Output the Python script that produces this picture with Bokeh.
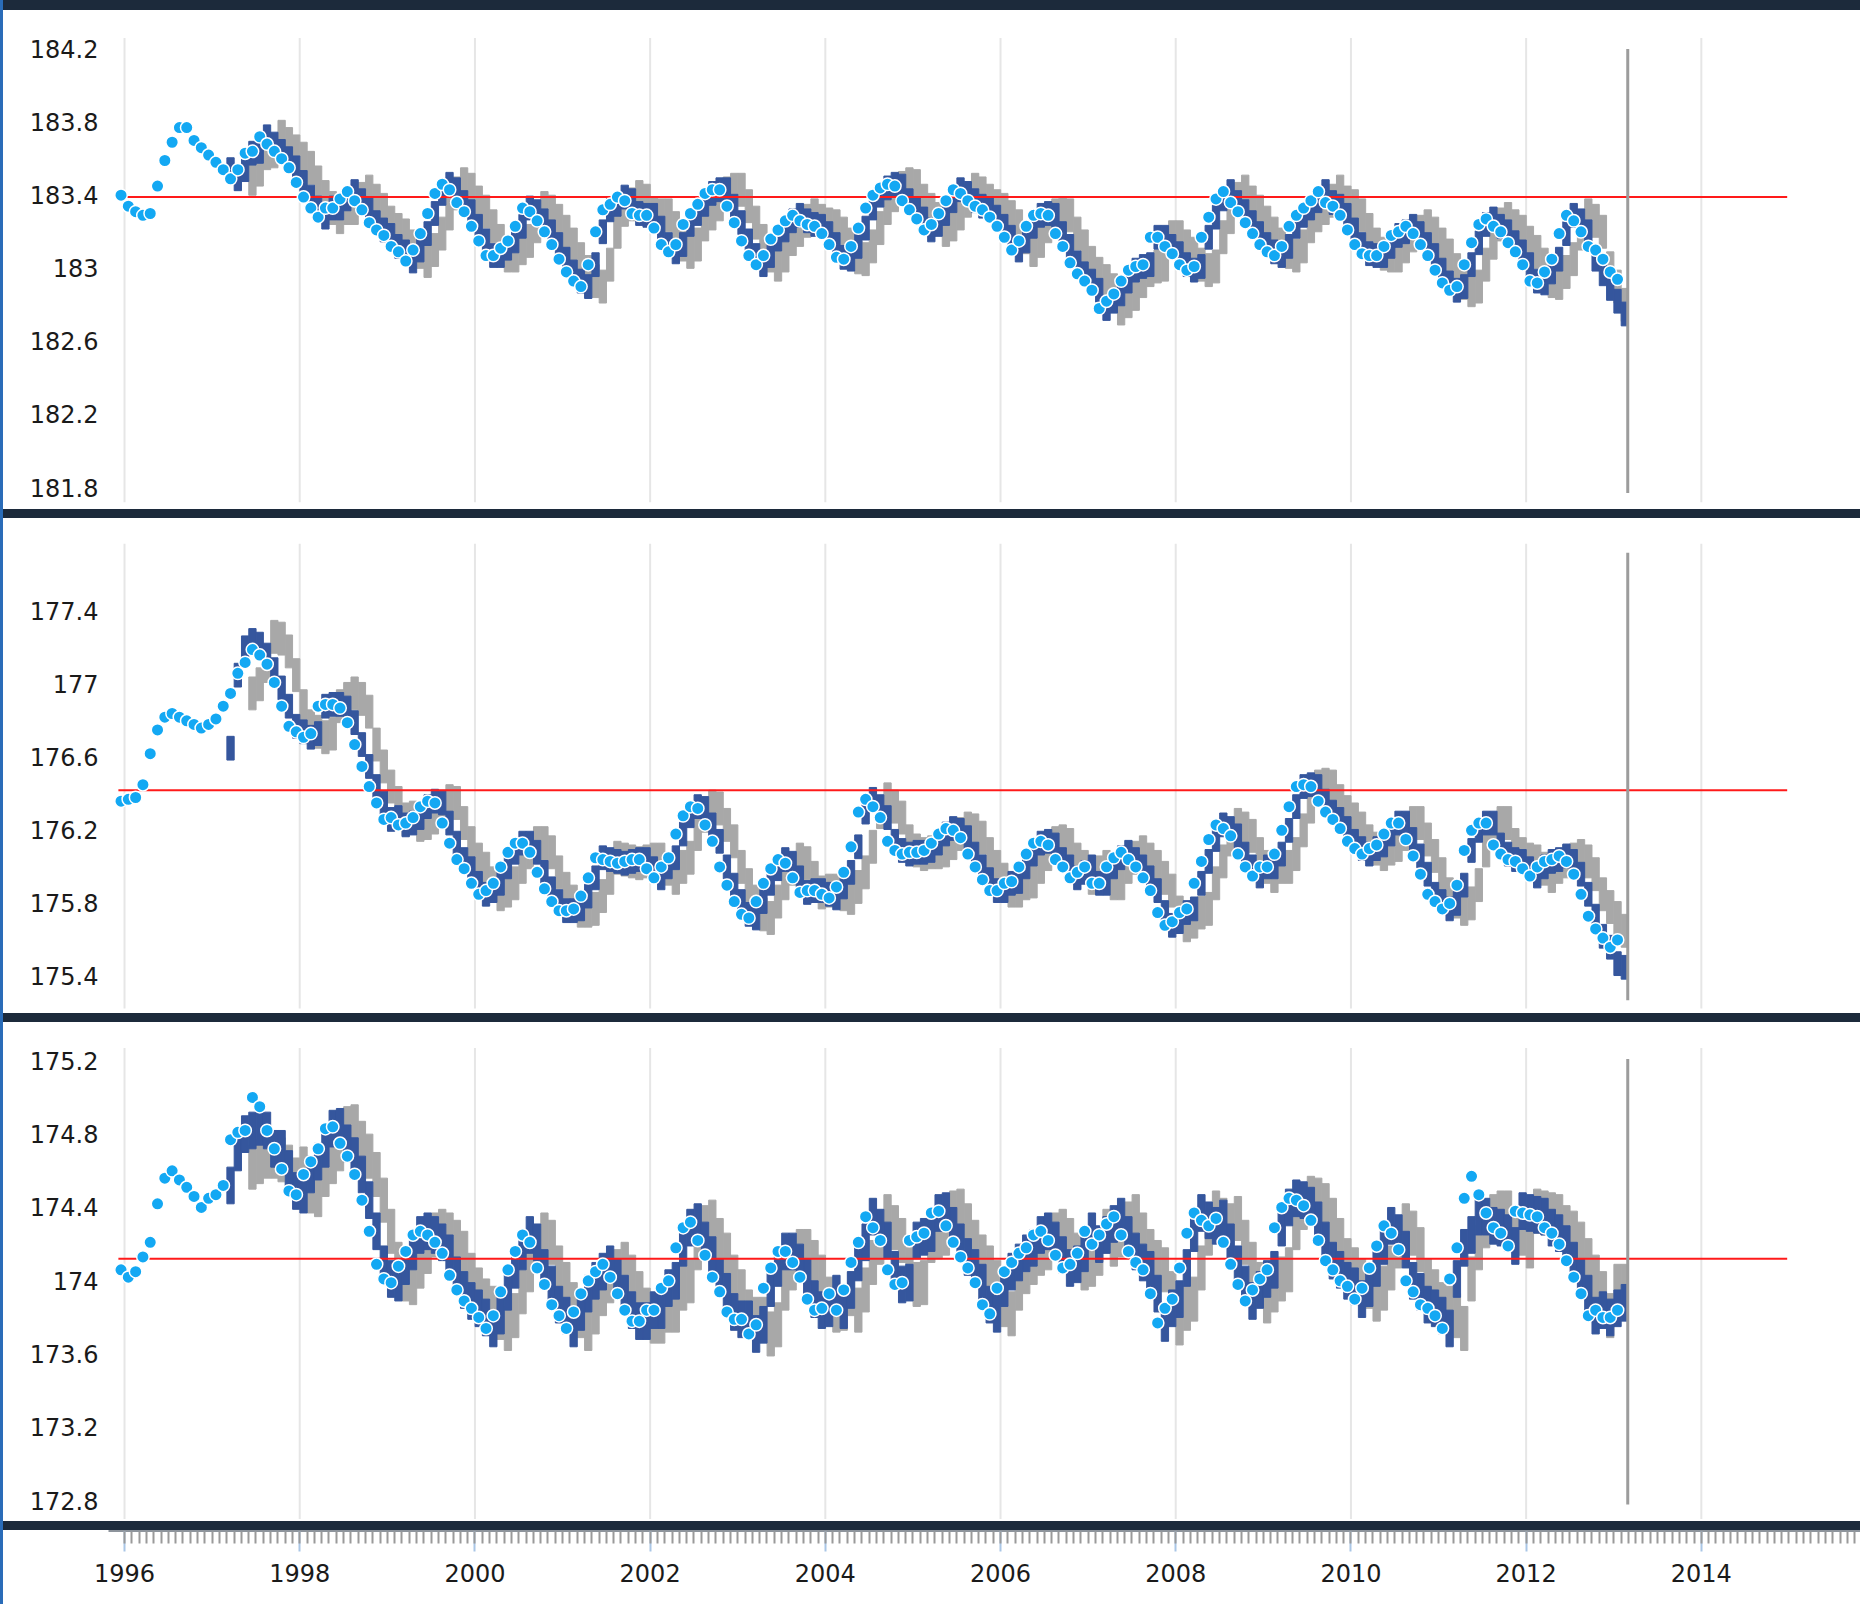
from bokeh.plotting import figure
from bokeh.layouts import column
from bokeh.models import FixedTicker, Range1d, CustomJSTickFormatter
from bokeh.embed import file_html
from bokeh.resources import INLINE

# ---------------- data (monthly mean levels, metres) ----------------
start_year = 1996
superior = [
    183.40, 183.34, 183.31, 183.29, 183.30, 183.45, 183.59, 183.69, 183.77, 183.77, 183.70, 183.66,
    183.62, 183.58, 183.54, 183.49, 183.54, 183.63, 183.64, 183.72, 183.68, 183.64, 183.60, 183.55,
    183.47, 183.39, 183.33, 183.28, 183.33, 183.33, 183.38, 183.42, 183.37, 183.32, 183.25, 183.21,
    183.18, 183.12, 183.09, 183.04, 183.10, 183.19, 183.30, 183.41, 183.46, 183.43, 183.36, 183.31,
    183.23, 183.15, 183.07, 183.07, 183.11, 183.15, 183.23, 183.33, 183.31, 183.26, 183.20, 183.13,
    183.05, 182.98, 182.93, 182.90, 183.02, 183.20, 183.32, 183.35, 183.39, 183.37, 183.30, 183.29,
    183.29, 183.22, 183.13, 183.09, 183.13, 183.24, 183.30, 183.35, 183.41, 183.43, 183.43, 183.34,
    183.25, 183.15, 183.07, 183.02, 183.07, 183.16, 183.21, 183.26, 183.29, 183.26, 183.24, 183.23,
    183.19, 183.13, 183.06, 183.05, 183.12, 183.22, 183.33, 183.40, 183.44, 183.46, 183.45, 183.37,
    183.32, 183.27, 183.21, 183.24, 183.30, 183.37, 183.43, 183.41, 183.37, 183.34, 183.32, 183.28,
    183.23, 183.17, 183.10, 183.15, 183.23, 183.29, 183.30, 183.29, 183.19, 183.12, 183.03, 182.97,
    182.93, 182.88, 182.78, 182.82, 182.86, 182.93, 182.99, 183.01, 183.02, 183.17, 183.17, 183.12,
    183.08, 183.02, 182.99, 183.01, 183.17, 183.28, 183.38, 183.42, 183.36, 183.31, 183.25, 183.19,
    183.13, 183.09, 183.07, 183.12, 183.23, 183.29, 183.33, 183.37, 183.42, 183.36, 183.34, 183.29,
    183.21, 183.13, 183.08, 183.07, 183.07, 183.12, 183.18, 183.20, 183.23, 183.19, 183.13, 183.07,
    182.99, 182.92, 182.88, 182.90, 183.02, 183.14, 183.24, 183.27, 183.23, 183.20, 183.14, 183.09,
    183.02, 182.93, 182.92, 182.98, 183.05, 183.19, 183.29, 183.26, 183.20, 183.12, 183.10, 183.05,
    182.98, 182.94,
]
michigan_huron = [
    176.36, 176.37, 176.38, 176.45, 176.62, 176.75, 176.82, 176.84, 176.82, 176.80, 176.78, 176.76,
    176.78, 176.81, 176.88, 176.95, 177.06, 177.12, 177.19, 177.16, 177.11, 177.01, 176.88, 176.77,
    176.74, 176.71, 176.73, 176.88, 176.89, 176.89, 176.87, 176.79, 176.67, 176.55, 176.44, 176.35,
    176.26, 176.27, 176.23, 176.24, 176.27, 176.33, 176.36, 176.35, 176.24, 176.13, 176.04, 175.99,
    175.91, 175.85, 175.87, 175.91, 176.00, 176.08, 176.13, 176.13, 176.08, 175.97, 175.88, 175.81,
    175.76, 175.76, 175.77, 175.84, 175.94, 176.05, 176.04, 176.03, 176.02, 176.03, 176.04, 176.04,
    175.99, 175.94, 176.00, 176.05, 176.18, 176.28, 176.33, 176.32, 176.23, 176.14, 176.00, 175.90,
    175.81, 175.74, 175.72, 175.81, 175.91, 175.99, 176.04, 176.02, 175.94, 175.86, 175.87, 175.87,
    175.85, 175.83, 175.89, 175.97, 176.11, 176.30, 176.37, 176.33, 176.27, 176.14, 176.09, 176.07,
    176.08, 176.08, 176.09, 176.13, 176.18, 176.21, 176.20, 176.16, 176.07, 176.00, 175.93, 175.87,
    175.87, 175.91, 175.92, 176.00, 176.07, 176.13, 176.14, 176.12, 176.04, 176.00, 175.94, 175.97,
    176.00, 175.91, 175.91, 176.00, 176.05, 176.08, 176.04, 176.00, 175.94, 175.87, 175.75, 175.68,
    175.70, 175.75, 175.77, 175.91, 176.03, 176.15, 176.23, 176.21, 176.17, 176.07, 176.00, 175.95,
    176.00, 176.00, 176.07, 176.20, 176.33, 176.44, 176.45, 176.44, 176.36, 176.30, 176.26, 176.21,
    176.14, 176.10, 176.07, 176.10, 176.12, 176.18, 176.24, 176.24, 176.15, 176.06, 175.96, 175.85,
    175.81, 175.77, 175.80, 175.90, 176.09, 176.20, 176.24, 176.24, 176.12, 176.07, 176.04, 176.03,
    175.99, 175.95, 176.00, 176.03, 176.04, 176.06, 176.03, 175.96, 175.85, 175.73, 175.66, 175.61,
    175.56, 175.60,
]
erie = [
    174.06, 174.02, 174.05, 174.13, 174.21, 174.42, 174.56, 174.60, 174.55, 174.51, 174.46, 174.40,
    174.45, 174.47, 174.52, 174.77, 174.81, 174.82, 175.00, 174.95, 174.82, 174.72, 174.61, 174.49,
    174.47, 174.58, 174.65, 174.72, 174.83, 174.84, 174.75, 174.68, 174.58, 174.44, 174.27, 174.09,
    174.01, 173.99, 174.08, 174.16, 174.25, 174.27, 174.25, 174.21, 174.15, 174.03, 173.95, 173.89,
    173.85, 173.80, 173.74, 173.81, 173.94, 174.06, 174.16, 174.25, 174.21, 174.07, 173.98, 173.87,
    173.81, 173.74, 173.83, 173.93, 174.00, 174.05, 174.09, 174.02, 173.93, 173.84, 173.78, 173.78,
    173.84, 173.84, 173.96, 174.00, 174.18, 174.29, 174.32, 174.22, 174.14, 174.02, 173.94, 173.83,
    173.79, 173.79, 173.71, 173.76, 173.96, 174.07, 174.16, 174.16, 174.10, 174.02, 173.90, 173.84,
    173.85, 173.93, 173.84, 173.95, 174.10, 174.21, 174.35, 174.29, 174.22, 174.06, 173.98, 173.99,
    174.22, 174.24, 174.26, 174.37, 174.38, 174.30, 174.21, 174.13, 174.07, 173.99, 173.87, 173.82,
    173.96, 174.05, 174.10, 174.15, 174.18, 174.25, 174.27, 174.22, 174.14, 174.07, 174.09, 174.15,
    174.27, 174.20, 174.25, 174.31, 174.35, 174.25, 174.16, 174.10, 174.06, 173.93, 173.77, 173.85,
    173.90, 174.07, 174.26, 174.37, 174.33, 174.30, 174.34, 174.21, 174.09, 173.98, 173.89, 173.95,
    174.01, 174.06, 174.29, 174.40, 174.45, 174.44, 174.41, 174.33, 174.22, 174.11, 174.06, 174.00,
    173.97, 173.90, 173.96, 174.07, 174.19, 174.30, 174.26, 174.17, 174.00, 173.94, 173.87, 173.85,
    173.81, 173.74, 174.01, 174.18, 174.45, 174.57, 174.47, 174.37, 174.29, 174.26, 174.19, 174.38,
    174.37, 174.36, 174.35, 174.29, 174.26, 174.20, 174.11, 174.02, 173.93, 173.81, 173.84, 173.80,
    173.80, 173.84,
]

# forecast ranges (centre level of each monthly block)
dark_start = 15   # first month index (Apr 1997) of the dark-blue range
grey_start = 18   # first month index (Jul 1997) of the grey range
superior_dark = [
    183.54, 183.49, 183.54, 183.63, 183.64, 183.72, 183.68, 183.64, 183.60,
    183.55, 183.47, 183.39, 183.33, 183.28, 183.33, 183.33, 183.38, 183.42, 183.37, 183.32, 183.25,
    183.21, 183.18, 183.12, 183.09, 183.04, 183.10, 183.19, 183.30, 183.41, 183.46, 183.43, 183.36,
    183.31, 183.23, 183.15, 183.07, 183.07, 183.11, 183.15, 183.23, 183.33, 183.31, 183.26, 183.20,
    183.13, 183.05, 182.98, 182.93, 182.90, 183.02, 183.20, 183.32, 183.35, 183.39, 183.37, 183.30,
    183.29, 183.29, 183.22, 183.13, 183.09, 183.13, 183.24, 183.30, 183.35, 183.41, 183.43, 183.43,
    183.34, 183.25, 183.15, 183.07, 183.02, 183.07, 183.16, 183.21, 183.26, 183.29, 183.26, 183.24,
    183.23, 183.19, 183.13, 183.06, 183.05, 183.12, 183.22, 183.33, 183.40, 183.44, 183.46, 183.45,
    183.37, 183.32, 183.27, 183.21, 183.24, 183.30, 183.37, 183.43, 183.41, 183.37, 183.34, 183.32,
    183.28, 183.23, 183.17, 183.10, 183.15, 183.23, 183.29, 183.30, 183.29, 183.19, 183.12, 183.03,
    182.97, 182.93, 182.88, 182.78, 182.82, 182.86, 182.93, 182.99, 183.01, 183.02, 183.17, 183.17,
    183.12, 183.08, 183.02, 182.99, 183.01, 183.17, 183.28, 183.38, 183.42, 183.36, 183.31, 183.25,
    183.19, 183.13, 183.09, 183.07, 183.12, 183.23, 183.29, 183.33, 183.37, 183.42, 183.36, 183.34,
    183.29, 183.21, 183.13, 183.08, 183.07, 183.07, 183.12, 183.18, 183.20, 183.23, 183.19, 183.13,
    183.07, 182.99, 182.92, 182.88, 182.90, 183.02, 183.14, 183.24, 183.27, 183.23, 183.20, 183.14,
    183.09, 183.02, 182.93, 182.92, 182.98, 183.05, 183.19, 183.29, 183.26, 183.20, 183.05, 182.97,
    182.89, 182.82, 182.75,
]
superior_grey = [
    183.49, 183.54, 183.63, 183.64, 183.72, 183.68, 183.64,
    183.60, 183.55, 183.47, 183.39, 183.33, 183.28, 183.33, 183.33, 183.38, 183.42, 183.37, 183.32,
    183.25, 183.21, 183.18, 183.12, 183.09, 183.04, 183.10, 183.19, 183.30, 183.41, 183.46, 183.43,
    183.36, 183.31, 183.23, 183.15, 183.07, 183.07, 183.11, 183.15, 183.23, 183.33, 183.31, 183.26,
    183.20, 183.13, 183.05, 182.98, 182.93, 182.90, 183.02, 183.20, 183.32, 183.35, 183.39, 183.37,
    183.30, 183.29, 183.29, 183.22, 183.13, 183.09, 183.13, 183.24, 183.30, 183.35, 183.41, 183.43,
    183.43, 183.34, 183.25, 183.15, 183.07, 183.02, 183.07, 183.16, 183.21, 183.26, 183.29, 183.26,
    183.24, 183.23, 183.19, 183.13, 183.06, 183.05, 183.12, 183.22, 183.33, 183.40, 183.44, 183.46,
    183.45, 183.37, 183.32, 183.27, 183.21, 183.24, 183.30, 183.37, 183.43, 183.41, 183.37, 183.34,
    183.32, 183.28, 183.23, 183.17, 183.10, 183.15, 183.23, 183.29, 183.30, 183.29, 183.19, 183.12,
    183.03, 182.97, 182.93, 182.88, 182.78, 182.82, 182.86, 182.93, 182.99, 183.01, 183.02, 183.17,
    183.17, 183.12, 183.08, 183.02, 182.99, 183.01, 183.17, 183.28, 183.38, 183.42, 183.36, 183.31,
    183.25, 183.19, 183.13, 183.09, 183.07, 183.12, 183.23, 183.29, 183.33, 183.37, 183.42, 183.36,
    183.34, 183.29, 183.21, 183.13, 183.08, 183.07, 183.07, 183.12, 183.18, 183.20, 183.23, 183.19,
    183.13, 183.07, 182.99, 182.92, 182.88, 182.90, 183.02, 183.14, 183.24, 183.27, 183.23, 183.20,
    183.14, 183.09, 183.02, 182.93, 182.92, 182.98, 183.05, 183.19, 183.29, 183.26, 183.20, 183.00,
    182.90, 182.80,
]
michigan_huron_dark = [
    176.65, 177.05, 177.20, 177.24, 177.22, 177.16, 177.08, 176.98, 176.88,
    176.77, 176.74, 176.71, 176.73, 176.88, 176.89, 176.89, 176.87, 176.79, 176.67, 176.55, 176.44,
    176.35, 176.26, 176.27, 176.23, 176.24, 176.27, 176.33, 176.36, 176.35, 176.24, 176.13, 176.04,
    175.99, 175.91, 175.85, 175.87, 175.91, 176.00, 176.08, 176.13, 176.13, 176.08, 175.97, 175.88,
    175.81, 175.76, 175.76, 175.77, 175.84, 175.94, 176.05, 176.04, 176.03, 176.02, 176.03, 176.04,
    176.04, 175.99, 175.94, 176.00, 176.05, 176.18, 176.28, 176.33, 176.32, 176.23, 176.14, 176.00,
    175.90, 175.81, 175.74, 175.72, 175.81, 175.91, 175.99, 176.04, 176.02, 175.94, 175.86, 175.87,
    175.87, 175.85, 175.83, 175.89, 175.97, 176.11, 176.30, 176.37, 176.33, 176.27, 176.14, 176.09,
    176.07, 176.08, 176.08, 176.09, 176.13, 176.18, 176.21, 176.20, 176.16, 176.07, 176.00, 175.93,
    175.87, 175.87, 175.91, 175.92, 176.00, 176.07, 176.13, 176.14, 176.12, 176.04, 176.00, 175.94,
    175.97, 176.00, 175.91, 175.91, 176.00, 176.05, 176.08, 176.04, 176.00, 175.94, 175.87, 175.75,
    175.68, 175.70, 175.75, 175.77, 175.91, 176.03, 176.15, 176.23, 176.21, 176.17, 176.07, 176.00,
    175.95, 176.00, 176.00, 176.07, 176.20, 176.33, 176.44, 176.45, 176.44, 176.36, 176.30, 176.26,
    176.21, 176.14, 176.10, 176.07, 176.10, 176.12, 176.18, 176.24, 176.24, 176.15, 176.06, 175.96,
    175.85, 175.81, 175.77, 175.80, 175.90, 176.09, 176.20, 176.24, 176.24, 176.12, 176.07, 176.04,
    176.03, 175.99, 175.95, 176.00, 176.03, 176.04, 176.06, 176.03, 175.96, 175.85, 175.73, 175.62,
    175.56, 175.47, 175.45,
]
michigan_huron_grey = [
    176.95, 177.00, 177.10, 177.26, 177.25, 177.18, 177.05,
    176.88, 176.77, 176.74, 176.71, 176.73, 176.88, 176.92, 176.95, 176.92, 176.85, 176.67, 176.55,
    176.44, 176.35, 176.26, 176.27, 176.23, 176.24, 176.27, 176.33, 176.36, 176.35, 176.24, 176.13,
    176.04, 175.99, 175.91, 175.85, 175.87, 175.91, 176.00, 176.08, 176.13, 176.13, 176.08, 175.97,
    175.88, 175.81, 175.76, 175.76, 175.77, 175.84, 175.94, 176.05, 176.04, 176.03, 176.02, 176.03,
    176.04, 176.04, 175.99, 175.94, 176.00, 176.05, 176.18, 176.28, 176.33, 176.32, 176.23, 176.14,
    176.00, 175.90, 175.81, 175.74, 175.72, 175.81, 175.91, 175.99, 176.04, 176.02, 175.94, 175.86,
    175.87, 175.87, 175.85, 175.83, 175.89, 175.97, 176.11, 176.30, 176.37, 176.33, 176.27, 176.14,
    176.09, 176.07, 176.08, 176.08, 176.09, 176.13, 176.18, 176.21, 176.20, 176.16, 176.07, 176.00,
    175.93, 175.87, 175.87, 175.91, 175.92, 176.00, 176.07, 176.13, 176.14, 176.12, 176.04, 176.00,
    175.94, 175.97, 176.00, 175.91, 175.91, 176.00, 176.05, 176.08, 176.04, 176.00, 175.94, 175.87,
    175.75, 175.68, 175.70, 175.75, 175.77, 175.91, 176.03, 176.15, 176.23, 176.21, 176.17, 176.07,
    176.00, 175.95, 176.00, 176.00, 176.07, 176.20, 176.33, 176.44, 176.45, 176.44, 176.36, 176.30,
    176.26, 176.21, 176.14, 176.10, 176.07, 176.10, 176.12, 176.18, 176.24, 176.24, 176.15, 176.06,
    175.96, 175.85, 175.81, 175.77, 175.80, 175.90, 176.09, 176.20, 176.24, 176.24, 176.12, 176.07,
    176.04, 176.03, 175.99, 175.95, 176.00, 176.03, 176.04, 176.06, 176.03, 175.96, 175.85, 175.78,
    175.72, 175.65,
]
erie_dark = [
    174.52, 174.70, 174.80, 174.82, 174.84, 174.82, 174.72, 174.72, 174.61,
    174.49, 174.47, 174.58, 174.65, 174.72, 174.83, 174.84, 174.75, 174.68, 174.58, 174.44, 174.27,
    174.09, 174.01, 173.99, 174.08, 174.16, 174.25, 174.27, 174.25, 174.21, 174.15, 174.03, 173.95,
    173.89, 173.85, 173.80, 173.74, 173.81, 173.94, 174.06, 174.16, 174.25, 174.21, 174.07, 173.98,
    173.87, 173.81, 173.74, 173.83, 173.93, 174.00, 174.05, 174.09, 174.02, 173.93, 173.84, 173.78,
    173.78, 173.84, 173.84, 173.96, 174.00, 174.18, 174.29, 174.32, 174.22, 174.14, 174.02, 173.94,
    173.83, 173.79, 173.79, 173.71, 173.76, 173.96, 174.07, 174.16, 174.16, 174.10, 174.02, 173.90,
    173.84, 173.85, 173.93, 173.84, 173.95, 174.10, 174.21, 174.35, 174.29, 174.22, 174.06, 173.98,
    173.99, 174.22, 174.24, 174.26, 174.37, 174.38, 174.30, 174.21, 174.13, 174.07, 173.99, 173.87,
    173.82, 173.96, 174.05, 174.10, 174.15, 174.18, 174.25, 174.27, 174.22, 174.14, 174.07, 174.09,
    174.15, 174.27, 174.20, 174.25, 174.31, 174.35, 174.25, 174.16, 174.10, 174.06, 173.93, 173.77,
    173.85, 173.90, 174.07, 174.26, 174.37, 174.33, 174.30, 174.34, 174.21, 174.09, 173.98, 173.89,
    173.95, 174.01, 174.06, 174.29, 174.40, 174.45, 174.44, 174.41, 174.33, 174.22, 174.11, 174.06,
    174.00, 173.97, 173.90, 173.96, 174.07, 174.19, 174.30, 174.26, 174.17, 174.00, 173.94, 173.87,
    173.85, 173.81, 173.74, 174.01, 174.18, 174.25, 174.35, 174.35, 174.30, 174.29, 174.26, 174.19,
    174.38, 174.37, 174.36, 174.35, 174.29, 174.26, 174.20, 174.11, 174.02, 173.93, 173.81, 173.84,
    173.80, 173.85, 173.88,
]
erie_grey = [
    174.62, 174.65, 174.68, 174.68, 174.66, 174.62, 174.55,
    174.61, 174.49, 174.47, 174.58, 174.65, 174.72, 174.83, 174.84, 174.75, 174.68, 174.58, 174.44,
    174.27, 174.09, 174.01, 173.99, 174.08, 174.16, 174.25, 174.27, 174.25, 174.21, 174.15, 174.03,
    173.95, 173.89, 173.85, 173.80, 173.74, 173.81, 173.94, 174.06, 174.16, 174.25, 174.21, 174.07,
    173.98, 173.87, 173.81, 173.74, 173.83, 173.93, 174.00, 174.05, 174.09, 174.02, 173.93, 173.84,
    173.78, 173.78, 173.84, 173.84, 173.96, 174.00, 174.18, 174.29, 174.32, 174.22, 174.14, 174.02,
    173.94, 173.83, 173.79, 173.79, 173.71, 173.76, 173.96, 174.07, 174.16, 174.16, 174.10, 174.02,
    173.90, 173.84, 173.85, 173.93, 173.84, 173.95, 174.10, 174.21, 174.35, 174.29, 174.22, 174.06,
    173.98, 173.99, 174.22, 174.24, 174.26, 174.37, 174.38, 174.30, 174.21, 174.13, 174.07, 173.99,
    173.87, 173.82, 173.96, 174.05, 174.10, 174.15, 174.18, 174.25, 174.27, 174.22, 174.14, 174.07,
    174.09, 174.15, 174.27, 174.20, 174.25, 174.31, 174.35, 174.25, 174.16, 174.10, 174.06, 173.93,
    173.77, 173.85, 173.90, 174.07, 174.26, 174.37, 174.33, 174.30, 174.34, 174.21, 174.09, 173.98,
    173.89, 173.95, 174.01, 174.06, 174.29, 174.40, 174.45, 174.44, 174.41, 174.33, 174.22, 174.11,
    174.06, 174.00, 173.97, 173.90, 173.96, 174.07, 174.19, 174.30, 174.26, 174.17, 174.00, 173.94,
    173.87, 173.85, 173.81, 173.74, 174.01, 174.18, 174.30, 174.35, 174.37, 174.37, 174.29, 174.26,
    174.19, 174.38, 174.37, 174.36, 174.35, 174.29, 174.26, 174.20, 174.11, 174.02, 173.93, 173.81,
    173.97, 173.97,
]

long_term_average = [183.39, 176.42, 174.12]
y_tick_values = [
    [181.8, 182.2, 182.6, 183.0, 183.4, 183.8, 184.2],
    [175.4, 175.8, 176.2, 176.6, 177.0, 177.4],
    [172.8, 173.2, 173.6, 174.0, 174.4, 174.8, 175.2],
]
x_tick_years = [1996, 1998, 2000, 2002, 2004, 2006, 2008, 2010, 2012, 2014]
current_date = 2013.16

# ---------------- styling / geometry ----------------
FONT = "DejaVu Sans"
NAVY = "#1c2a3b"
DARK_BAND = "#35569d"
GREY_BAND = "#a8a8a8"
W = 1857
X_RANGE = (1995.817, 2015.817)
AVG_X = (1995.93, 2014.98)
panels_geom = [
    # height, y range, gridline span, current-date line span, half heights (dark, grey)
    (499, (181.680, 184.411), (181.72, 184.26), (181.77, 184.20), (0.065, 0.09)),
    (495, (175.197, 177.908), (175.225, 177.77), (175.27, 177.72), (0.065, 0.09)),
    (499, (172.687, 175.409), (172.70, 175.27), (172.78, 175.21), (0.10, 0.12)),
]
series = [superior, michigan_huron, erie]
dark_series = [superior_dark, michigan_huron_dark, erie_dark]
grey_series = [superior_grey, michigan_huron_grey, erie_grey]


def month_pos(i):
    return start_year + i / 12.0 - 0.04


fmt = CustomJSTickFormatter(code="return String(Number(tick.toFixed(1)));")


def draw_band(p, start, mids, half, color):
    xs = [month_pos(start + j) for j in range(len(mids))]
    p.vbar(x=xs, width=1 / 12.0, top=[m + half for m in mids], bottom=[m - half for m in mids],
           fill_color=color, line_color=color, line_width=1)


figs = []
for k, (h, yr, gspan, vspan, halves) in enumerate(panels_geom):
    p = figure(width=W, height=h, x_range=Range1d(*X_RANGE), y_range=Range1d(*yr),
               output_backend="svg", toolbar_location=None, x_axis_location=None,
               min_border_left=105, min_border_right=0, min_border_top=0, min_border_bottom=0,
               styles={"background-color": "white"})
    p.grid.visible = False
    p.outline_line_color = None
    p.background_fill_color = "white"
    p.border_fill_color = "white"
    ax = p.yaxis[0]
    ax.ticker = FixedTicker(ticks=y_tick_values[k])
    ax.formatter = fmt
    ax.axis_line_color = None
    ax.major_tick_line_color = None
    ax.minor_tick_line_color = None
    ax.major_tick_out = 0
    ax.major_tick_in = 0
    ax.major_label_standoff = 10
    ax.major_label_text_font = FONT
    ax.major_label_text_font_size = "24px"
    ax.major_label_text_color = "#1a1a1a"

    # vertical gridlines at labelled years
    p.segment(x0=x_tick_years, x1=x_tick_years, y0=[gspan[0]] * len(x_tick_years),
              y1=[gspan[1]] * len(x_tick_years), line_color="#e6e6e6", line_width=2)
    # forecast ranges
    draw_band(p, grey_start, grey_series[k], halves[1], GREY_BAND)
    draw_band(p, dark_start, dark_series[k], halves[0], DARK_BAND)
    # long-term average
    p.segment(x0=[AVG_X[0]], x1=[AVG_X[1]], y0=[long_term_average[k]], y1=[long_term_average[k]],
              line_color="#ff1a1a", line_width=2)
    # current date
    p.segment(x0=[current_date], x1=[current_date], y0=[vspan[0]], y1=[vspan[1]],
              line_color="#9c9c9c", line_width=3)
    vals = series[k]
    p.scatter([month_pos(i) for i in range(len(vals))], vals, size=12.5, fill_color="#13a8f3",
              line_color="white", line_width=1.5)
    figs.append(p)

# bottom time axis strip
p4 = figure(width=W, height=74, x_range=figs[0].x_range, y_range=Range1d(0, 1),
            output_backend="svg", toolbar_location=None, y_axis_location=None,
            min_border_left=105, min_border_right=0, min_border_top=0, min_border_bottom=73,
            styles={"background-color": "white"})
p4.grid.visible = False
p4.outline_line_color = None
p4.background_fill_color = NAVY
xa = p4.xaxis[0]
minor = [start_year + m / 12.0 for m in range(0, 20 * 12)]
xa.ticker = FixedTicker(ticks=x_tick_years, minor_ticks=minor)
xa.axis_line_color = None
xa.major_tick_line_color = "#a9c6e6"
xa.major_tick_line_width = 2
xa.major_tick_out = 20
xa.major_tick_in = 0
xa.minor_tick_line_color = "#9a9a9a"
xa.minor_tick_line_width = 2
xa.minor_tick_out = 12
xa.minor_tick_in = 0
xa.major_label_standoff = 12
xa.major_label_text_font = FONT
xa.major_label_text_font_size = "24px"
xa.major_label_text_color = "#1a1a1a"

layout = column(*figs, p4, spacing=9,
                styles={"background-color": NAVY, "padding-top": "10px",
                        "border-left": "3px solid #2a6cb8"})

open("out.html", "w").write(file_html(layout, INLINE))
